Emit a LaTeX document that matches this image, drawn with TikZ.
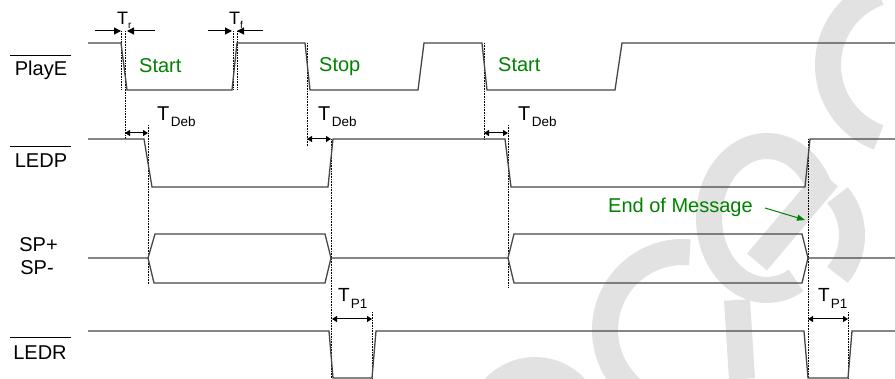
\documentclass[tikz,border=0pt]{standalone}
\usepackage{fontspec}
\setmainfont{Liberation Sans}
\usetikzlibrary{arrows.meta}
\definecolor{sigcol}{RGB}{70,70,70}
\definecolor{grn}{RGB}{0,130,0}
\definecolor{wmcol}{RGB}{226,226,226}
\begin{document}
\begin{tikzpicture}[x=1pt,y=-1pt,
  sig/.style={draw=sigcol,line width=1.3pt,line join=miter},
  guide/.style={draw=black,line width=0.6pt,densely dotted},
  dimarr/.style={draw=black,line width=1pt,-{Triangle[length=7pt,width=7pt]}},
  dimboth/.style={draw=black,line width=1pt,{Triangle[length=5pt,width=6pt]}-{Triangle[length=5pt,width=6pt]}},
  wm/.style={draw=wmcol,line width=26pt},
  sname/.style={anchor=base,font=\fontsize{20}{24}\selectfont,inner sep=0pt},
  lbl/.style={anchor=base west,font=\fontsize{20}{24}\selectfont,inner sep=0pt,text=grn},
  tlab/.style={anchor=base west,font=\fontsize{20}{24}\selectfont,inner sep=0pt},
  oline/.style={draw=black,line width=0.9pt}
]
\useasboundingbox (0,0) rectangle (895,379);
\fill[white] (0,0) rectangle (895,379);

% watermark (background)
\draw[wm] (905,65) ++(250:77) arc[start angle=250,end angle=110,radius=77];
\draw[wm] (767,218) ++(60:58 and 72) arc[start angle=60,end angle=340,x radius=58,y radius=72];
\draw[wm] (757,262) -- (828,178);
\draw[wm] (790,235) ++(-40:62) arc[start angle=-40,end angle=40,radius=62];
\draw[wm] (683,330) ++(275:78) arc[start angle=275,end angle=120,radius=78];
\draw[wm] (535,425) ++(200:55) arc[start angle=200,end angle=340,radius=55];
\draw[wm] (737,300) -- (742,379);

% signal names
\node[sname] (nplaye) at (41,76) {PlayE};
\node[sname] (nledp) at (41,168) {LEDP};
\node[sname] (nspp) at (38.5,252) {SP+};
\node[sname] (nspm) at (37,275) {SP-};
\node[sname] (nledr) at (40,360) {LEDR};
\draw[oline] (10,55) -- (71,55);
\draw[oline] (10,146) -- (71,146);
\draw[oline] (10,337) -- (71,337);

% guide lines
\draw[guide] (121,31) -- (121,90);
\draw[guide] (125,31) -- (125,139);
\draw[guide] (233,31) -- (233,90);
\draw[guide] (237,31) -- (237,90);
\draw[guide] (148,125) -- (148,285);
\draw[guide] (307,43) -- (307,146);
\draw[guide] (331,139) -- (331,379);
\draw[guide] (484,43) -- (484,140);
\draw[guide] (508,125) -- (508,288);
\draw[guide] (808,139) -- (808,379);
\draw[guide] (372,312) -- (372,379);
\draw[guide] (848,312) -- (848,379);

% PlayE
\draw[sig] (88,43) -- (121,43) -- (127,90) -- (232,90) -- (237,43) -- (305,43) -- (310,90) -- (418,90) -- (424,43) -- (482,43) -- (487,90) -- (615,90) -- (622,43) -- (895,43);
% LEDP
\draw[sig] (88,139) -- (144,139) -- (152,187) -- (328,187) -- (333,139) -- (505,139) -- (511,187) -- (805,187) -- (810,139) -- (895,139);
% SP bus
\draw[sig] (88,258) -- (148,258) -- (155,234) -- (325,234) -- (331,258) -- (508,258) -- (514,234) -- (802,234) -- (808,258) -- (895,258);
\draw[sig] (148,258) -- (154,283) -- (325,283) -- (331,258);
\draw[sig] (508,258) -- (514,283) -- (802,283) -- (808,258);
% LEDR
\draw[sig] (88,331) -- (329,331) -- (333,378) -- (372,378) -- (376,331) -- (804,331) -- (808,378) -- (848,378) -- (852,331) -- (895,331);

% Tr / Tf
\coordinate (tra) at (95,31); \coordinate (trb) at (121,31);
\coordinate (trc) at (155,31); \coordinate (trd) at (127,31);
\draw[dimarr] (tra) -- (trb);
\draw[dimarr] (trc) -- (trd);
\coordinate (tfa) at (208,31); \coordinate (tfb) at (232,31);
\coordinate (tfc) at (263,31); \coordinate (tfd) at (237,31);
\draw[dimarr] (tfa) -- (tfb);
\draw[dimarr] (tfc) -- (tfd);
\node[tlab,font=\fontsize{18}{20}\selectfont] (ltr) at (117,25) {T\raisebox{-4pt}{\fontsize{10}{12}\selectfont r}};
\node[tlab,font=\fontsize{18}{20}\selectfont] (ltf) at (229,25) {T\raisebox{-4pt}{\fontsize{10}{12}\selectfont f}};

% TDeb
\coordinate (d1a) at (125,133); \coordinate (d1b) at (148,133);
\coordinate (d2a) at (307,139); \coordinate (d2b) at (331,139);
\coordinate (d3a) at (484,133); \coordinate (d3b) at (508,133);
\draw[dimboth] (d1a) -- (d1b);
\draw[dimboth] (d2a) -- (d2b);
\draw[dimboth] (d3a) -- (d3b);
\node[tlab] (ldeb1) at (157,121) {T\kern1.5pt\raisebox{-6pt}{\fontsize{13.5}{16}\selectfont Deb}};
\node[tlab] (ldeb2) at (318,121) {T\kern1.5pt\raisebox{-6pt}{\fontsize{13.5}{16}\selectfont Deb}};
\node[tlab] (ldeb3) at (518,121) {T\kern1.5pt\raisebox{-6pt}{\fontsize{13.5}{16}\selectfont Deb}};

% TP1
\coordinate (p1a) at (332,319); \coordinate (p1b) at (372,319);
\coordinate (p2a) at (808,319); \coordinate (p2b) at (848,319);
\draw[dimboth] (p1a) -- (p1b);
\draw[dimboth] (p2a) -- (p2b);
\node[tlab,font=\fontsize{19}{22}\selectfont] (lp1) at (338,302) {T\kern1pt\raisebox{-7pt}{\fontsize{13.5}{16}\selectfont P1}};
\node[tlab,font=\fontsize{19}{22}\selectfont] (lp2) at (818,302) {T\kern1pt\raisebox{-7pt}{\fontsize{13.5}{16}\selectfont P1}};

% green labels
\node[lbl] (lstart1) at (139,73) {Start};
\node[lbl] (lstop) at (319,72) {Stop};
\node[lbl] (lstart2) at (498,72) {Start};
\node[lbl] (leom) at (608,213) {End of Message};
\coordinate (eomtip) at (805,220);
\draw[draw=grn,line width=1pt,-{Triangle[length=8pt,width=6pt]}] (765,208) -- (eomtip);
\end{tikzpicture}
\end{document}
